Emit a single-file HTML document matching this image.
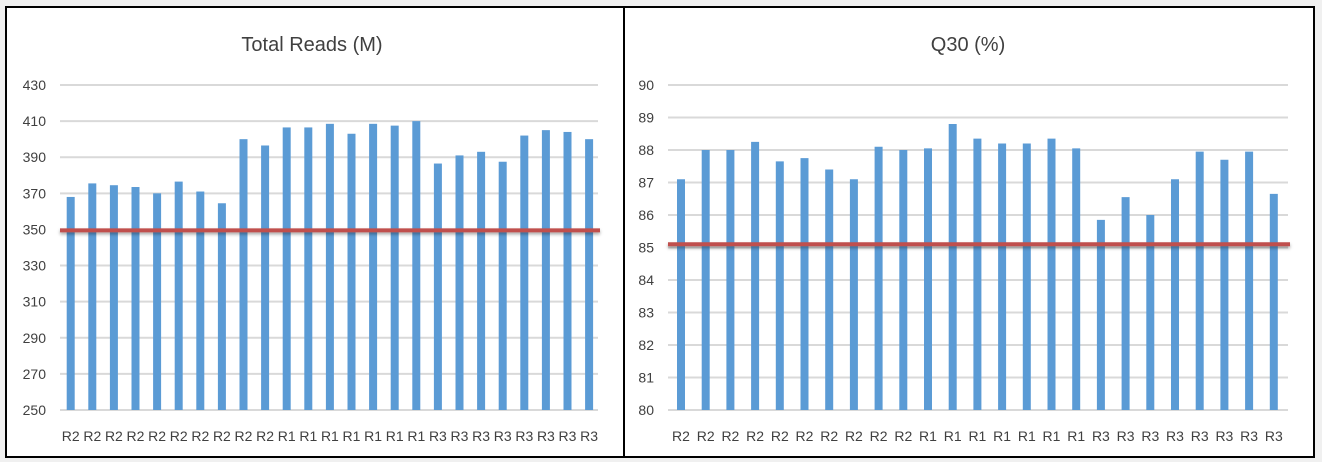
<!DOCTYPE html>
<html><head><meta charset="utf-8"><style>
body{margin:0;background:#f0f0f0;}
svg{display:block;font-family:"Liberation Sans",sans-serif;}
</style></head><body>
<svg id="s" width="1322" height="462" xmlns="http://www.w3.org/2000/svg">
<defs><filter id="sh" filterUnits="userSpaceOnUse" x="0" y="0" width="1322" height="462"><feDropShadow dx="0" dy="2" stdDeviation="1.5" flood-color="#000" flood-opacity="0.35"/></filter></defs>
<rect x="0" y="0" width="1322" height="462" fill="#f0f0f0"/>
<rect x="6" y="7" width="1308" height="450" fill="#fff" stroke="#000" stroke-width="2"/>
<line x1="624" y1="7" x2="624" y2="457" stroke="#000" stroke-width="2"/>
<text x="312" y="51" text-anchor="middle" font-size="20" fill="#404040">Total Reads (M)</text>
<text x="968" y="51" text-anchor="middle" font-size="20" fill="#404040">Q30 (%)</text>
<g id="g"></g>
</svg>
<script>
var g=document.getElementById('g'),NS='http://www.w3.org/2000/svg';
function el(t,a,txt){var e=document.createElementNS(NS,t);for(var k in a)e.setAttribute(k,a[k]);if(txt)e.textContent=txt;g.appendChild(e);return e;}
var labs=[];for(var i=0;i<10;i++)labs.push('R2');for(i=0;i<7;i++)labs.push('R1');for(i=0;i<8;i++)labs.push('R3');
function chart(o){
 var n=o.ticks.length;
 for(var i=0;i<n;i++){var v=o.ticks[i],y=o.y(v);
  el('line',{x1:o.gx0,x2:o.gx1,y1:y,y2:y,stroke:'#d9d9d9','stroke-width':2});
  el('text',{x:o.lx,y:y+5,'text-anchor':'end','font-size':14,fill:'#404040'},String(v));}
 for(i=0;i<o.vals.length;i++){var cx=o.c0+i*o.sp,y=o.y(o.vals[i]);
  el('rect',{x:cx-4,y:y,width:8,height:o.y(o.ticks[0])-y,fill:'#5b9bd5'});
  el('text',{x:cx,y:441,'text-anchor':'middle','font-size':14,fill:'#404040'},labs[i]);}
 var ry=o.y(o.ref);
 el('rect',{x:o.gx0,y:ry-2,width:o.gx1+2-o.gx0,height:4,fill:'#c0504d',filter:'url(#sh)'});
}
chart({gx0:60,gx1:598,lx:46,c0:70.7,sp:21.6,ticks:[250,270,290,310,330,350,370,390,410,430],
 y:function(v){return 410-(v-250)*325/180;},ref:349.5,
 vals:[368,375.5,374.5,373.5,370,376.5,371,364.5,400,396.5,406.5,406.5,408.5,403,408.5,407.5,410,386.5,391,393,387.5,402,405,404,400]});
chart({gx0:668,gx1:1288,lx:654,c0:681,sp:24.7,ticks:[80,81,82,83,84,85,86,87,88,89,90],
 y:function(v){return 410-(v-80)*32.5;},ref:85.1,
 vals:[87.1,88,88,88.25,87.65,87.75,87.4,87.1,88.1,88,88.05,88.8,88.35,88.2,88.2,88.35,88.05,85.85,86.55,86,87.1,87.95,87.7,87.95,86.65]});
</script>
</body></html>
